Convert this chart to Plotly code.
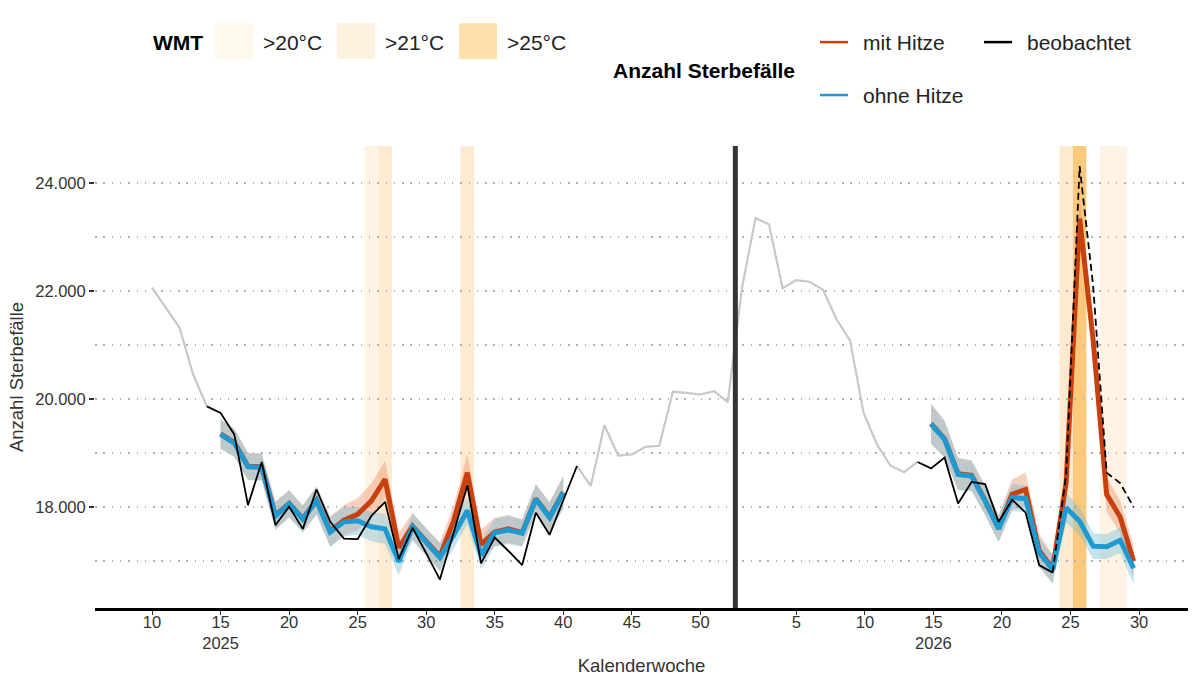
import plotly.graph_objects as go

# Kalenderwochen 2025 und 2026 auf einer fortlaufenden Achse;
# die Wochen 2026 liegen im Original etwas enger (Schritt 0.985) als die Achsenbeschriftung
def kw(year, week):
    if year == 2026:
        return 53.04 + (week - 1) * 0.985
    return week

# graue Linie ausserhalb des Modellzeitraums
gray_weeks_2025a = [10, 11, 12, 13, 14]
gray_2025a = [22070, 21690, 21330, 20460, 19870]
gray_weeks_2025b = list(range(41, 53))
gray_2025b = [18765, 18395, 19520, 18960, 18980, 19120, 19140, 20140, 20120, 20090, 20150, 19950]
gray_weeks_2026 = list(range(1, 15))
gray_2026 = [22070, 23360, 23240, 22060, 22210, 22180, 22030, 21480, 21090, 19750, 19160, 18770, 18650, 18840]

# beobachtete Sterbefaelle
obs_weeks_2025 = list(range(14, 42))
obs_2025 = [19870, 19750, 19350, 18040, 18840, 17670, 18010, 17600, 18330, 17730, 17420, 17410, 17840, 18100,
            17040, 17620, 17150, 16660, 17530, 18410, 16960, 17440, 17190, 16930, 17900, 17490, 18130, 18765]
obs_weeks_2026 = list(range(14, 25))
obs_2026 = [18840, 18720, 18920, 18070, 18470, 18430, 17730, 18140, 17900, 16930, 16790]
obs_weeks_2026_prelim = list(range(24, 31))
obs_2026_prelim = [16790, 18600, 24320, 22100, 18640, 18450, 18000]

# Modell: ohne Hitze / mit Hitze (+ halbe Breite des Unsicherheitsbands)
model_weeks_2025 = list(range(15, 41))
ohne_2025 = [19350, 19190, 18750, 18740, 17840, 18060, 17780, 18120, 17540, 17730, 17750, 17640, 17600,
             16990, 17640, 17350, 17070, 17480, 17940, 17110, 17530, 17580, 17520, 18150, 17810, 18270]
ohne_ci_2025 = [270, 260, 250, 250, 260, 250, 250, 260, 280, 270, 260, 270, 280,
                250, 250, 250, 260, 250, 250, 260, 260, 260, 250, 270, 280, 300]
mit_2025 = [19360, 19200, 18760, 18750, 17850, 18070, 17790, 18130, 17560, 17760, 17870, 18120, 18520,
            17250, 17650, 17360, 17090, 17750, 18640, 17310, 17540, 17600, 17530, 18160, 17820, 18280]
mit_ci_2025 = [270, 260, 250, 250, 260, 250, 250, 260, 280, 280, 300, 320, 340,
               280, 250, 250, 260, 290, 340, 280, 260, 260, 250, 270, 280, 300]

model_weeks_2026 = list(range(15, 31))
ohne_2026 = [19540, 19260, 18610, 18580, 18120, 17600, 18180, 18160, 17160, 16850, 17990, 17740, 17280, 17270, 17390, 16870]
ohne_ci_2026 = [370, 340, 300, 280, 270, 250, 250, 250, 260, 260, 270, 260, 240, 230, 240, 300]
mit_2026 = [19550, 19270, 18620, 18590, 18130, 17610, 18240, 18330, 17200, 16860, 18450, 23350, 21100, 18240, 17820, 17000]
mit_ci_2026 = [370, 340, 300, 280, 270, 250, 280, 320, 300, 270, 300, 400, 350, 320, 300, 300]

# Wochen mit hohen Temperaturen (WMT)
heat_year = [2025, 2025, 2025, 2026, 2026, 2026, 2026]
heat_week = [26, 27, 33, 25, 26, 28, 29]
heat_level = [">20°C", ">21°C", ">21°C", ">21°C", ">25°C", ">20°C", ">20°C"]
heat_levels = [">20°C", ">21°C", ">25°C"]

tick_weeks_2025 = [10, 15, 20, 25, 30, 35, 40, 45, 50]
tick_weeks_2026 = [5, 10, 15, 20, 25, 30]

RED = "#C9400F"
BLUE = "#1E9AD0"
heat_fill = {">20°C": "#FEF3E4", ">21°C": "#FDEAD0", ">25°C": "#FCC97C"}
heat_key = {">20°C": "#FEF8ED", ">21°C": "#FDF1DF", ">25°C": "#FDE0AE"}

fig = go.Figure()


def band(weeks, year, mid, half, color):
    x = [kw(year, w) for w in weeks]
    hi = [m + h for m, h in zip(mid, half)]
    lo = [m - h for m, h in zip(mid, half)]
    fig.add_trace(go.Scatter(x=x + x[::-1], y=hi + lo[::-1], fill="toself", fillcolor=color,
                             line=dict(width=0), mode="lines", hoverinfo="skip", showlegend=False))


def line(weeks, year, vals, color, width, dash="solid"):
    fig.add_trace(go.Scatter(x=[kw(year, w) for w in weeks], y=vals, mode="lines",
                             line=dict(color=color, width=width, dash=dash), showlegend=False))


band(model_weeks_2025, 2025, mit_2025, mit_ci_2025, "rgba(232,140,100,0.40)")
band(model_weeks_2026, 2026, mit_2026, mit_ci_2026, "rgba(232,140,100,0.40)")
band(model_weeks_2025, 2025, ohne_2025, ohne_ci_2025, "rgba(110,188,215,0.40)")
band(model_weeks_2026, 2026, ohne_2026, ohne_ci_2026, "rgba(110,188,215,0.40)")

line(gray_weeks_2025a, 2025, gray_2025a, "#C8C8C8", 2.2)
fig.add_trace(go.Scatter(x=[kw(2025, w) for w in gray_weeks_2025b] + [kw(2026, w) for w in gray_weeks_2026],
                         y=gray_2025b + gray_2026, mode="lines",
                         line=dict(color="#C8C8C8", width=2.2), showlegend=False))

line(model_weeks_2025, 2025, mit_2025, RED, 5)
line(model_weeks_2026, 2026, mit_2026, RED, 5)
line(model_weeks_2025, 2025, ohne_2025, BLUE, 5)
line(model_weeks_2026, 2026, ohne_2026, BLUE, 5)

line(obs_weeks_2025, 2025, obs_2025, "black", 1.8)
line(obs_weeks_2026, 2026, obs_2026, "black", 1.8)
line(obs_weeks_2026_prelim, 2026, obs_2026_prelim, "black", 1.8, dash="7px,4px")

# Hitzewochen als Hintergrundstreifen
shapes = []
for y, w, lvl in zip(heat_year, heat_week, heat_level):
    half = 0.5 if y == 2025 else 0.4925
    t = kw(y, w)
    shapes.append(dict(type="rect", xref="x", yref="paper", x0=t - half, x1=t + half, y0=0, y1=1,
                       fillcolor=heat_fill[lvl], line=dict(width=0), layer="below"))

# Jahreswechsel
shapes.append(dict(type="line", xref="x", yref="paper", x0=52.55, x1=52.55, y0=0, y1=1,
                   line=dict(color="#333333", width=5)))

# Legende von Hand (Pixel -> Papierkoordinaten)
L, R, T, B = 95, 1188, 146, 608.5
def px(x):
    return (x - L) / (R - L)
def py(y):
    return (B - y) / (B - T)

FONT = "Liberation Sans, Arial, sans-serif"
annotations = [dict(xref="paper", yref="paper", x=px(151), y=py(42), text="<b>WMT</b>", showarrow=False,
                    xanchor="left", yanchor="middle", font=dict(size=21, color="black"))]
for i, lvl in enumerate(heat_levels):
    x0 = 215 + i * 122
    shapes.append(dict(type="rect", xref="paper", yref="paper", x0=px(x0), x1=px(x0 + 38),
                       y0=py(59), y1=py(23), fillcolor=heat_key[lvl], line=dict(width=0)))
    annotations.append(dict(xref="paper", yref="paper", x=px(x0 + 46), y=py(42), text=lvl, showarrow=False,
                            xanchor="left", yanchor="middle", font=dict(size=21, color="#222222")))

annotations.append(dict(xref="paper", yref="paper", x=px(611), y=py(70), text="<b>Anzahl Sterbefälle</b>",
                        showarrow=False, xanchor="left", yanchor="middle", font=dict(size=21, color="black")))
legend_lines = [("mit Hitze", RED, 820, 42), ("beobachtet", "black", 984, 42), ("ohne Hitze", BLUE, 820, 95)]
for label, col, x0, y0 in legend_lines:
    shapes.append(dict(type="line", xref="paper", yref="paper", x0=px(x0), x1=px(x0 + 28), y0=py(y0), y1=py(y0),
                       line=dict(color=col, width=2.5)))
    annotations.append(dict(xref="paper", yref="paper", x=px(x0 + 41), y=py(y0), text=label, showarrow=False,
                            xanchor="left", yanchor="middle", font=dict(size=21, color="#222222")))

# Achsenbeschriftung: Wochen 2026 bei 52 + KW
tickvals = tick_weeks_2025 + [52 + w for w in tick_weeks_2026]
ticktext = [str(w) + ("<br>2025" if w == 15 else "") for w in tick_weeks_2025] + \
           [str(w) + ("<br>2026" if w == 15 else "") for w in tick_weeks_2026]

GRID = dict(showgrid=True, gridcolor="#B3B3B3", griddash="1.5px,6.8px", gridwidth=1.5)

fig.update_layout(
    width=1200, height=686,
    margin=dict(l=L, r=1200 - R, t=T, b=686 - B),
    plot_bgcolor="white", paper_bgcolor="white",
    font=dict(family=FONT, size=16, color="#333333"),
    separators=",.",
    shapes=shapes, annotations=annotations,
    showlegend=False,
    xaxis=dict(range=[5.84, 85.57], tickvals=tickvals, ticktext=ticktext, showgrid=False, zeroline=False,
               showline=True, linecolor="black", linewidth=2.5, ticks="outside", ticklen=4, tickwidth=1,
               tickcolor="#333333", tickfont=dict(size=16.5, color="#333333"), ticklabelstandoff=-7,
               title=dict(text="Kalenderwoche", font=dict(size=18.5, color="#333333"), standoff=9)),
    yaxis=dict(range=[16134, 24694], dtick=2000, tick0=0, tickformat=",d", zeroline=False, showline=False,
               ticks="outside", ticklen=5, tickwidth=1.5, tickcolor="#333333",
               tickfont=dict(size=16.5, color="#333333"),
               minor=dict(dtick=1000, tick0=0, ticks="", **GRID),
               title=dict(text="Anzahl Sterbefälle", font=dict(size=18.5, color="#333333"), standoff=6),
               **GRID),
)

# Seitenrand des Browsers entfernen, damit die Grafik bei 0,0 beginnt
fig.write_html("out.html", config={"displayModeBar": False},
               post_script="document.body.style.margin='0';")
